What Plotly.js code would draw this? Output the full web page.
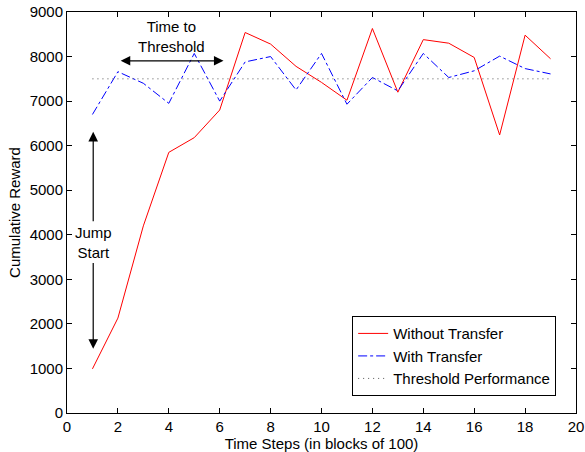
<!DOCTYPE html>
<html>
<head>
<meta charset="utf-8">
<script src="https://cdn.plot.ly/plotly-3.0.1.min.js"></script>
<style>html,body{margin:0;padding:0;background:#fff;}#chart{width:585px;height:452px;}</style>
</head>
<body>
<div id="chart"></div>
<script>
const steps = [1,2,3,4,5,6,7,8,9,10,11,12,13,14,15,16,17,18,19];
const withoutTransfer = [990,2130,4200,5850,6180,6800,8540,8280,7780,7420,7020,8630,7200,8380,8300,7980,6240,8480,7950];
const withTransfer = [6700,7660,7400,6950,8070,7000,7880,8000,7250,8070,6930,7530,7230,8070,7530,7680,8010,7730,7610];
const thresholdValue = 7500;
const thresholdLine = steps.map(() => thresholdValue);
const seriesNames = ["Without Transfer", "With Transfer", "Threshold Performance"];
const xTicks = [0,2,4,6,8,10,12,14,16,18,20];
const yTicks = [0,1000,2000,3000,4000,5000,6000,7000,8000,9000];

const FONT = "Liberation Sans, Arial, Helvetica, sans-serif";
const FS = 15;

const traces = [
  {x: steps, y: withoutTransfer, name: seriesNames[0], mode: "lines",
   line: {color: "#ff0000", width: 1}},
  {x: steps, y: withTransfer, name: seriesNames[1], mode: "lines",
   line: {color: "#0000ff", width: 1, dash: "dashdot"}},
  {x: steps, y: thresholdLine, name: seriesNames[2], mode: "lines",
   line: {color: "#555555", width: 1, dash: "1px,4px"}}
];

const arrowCommon = {xref: "x", yref: "y", axref: "x", ayref: "y", text: "",
  showarrow: true, arrowhead: 2, arrowsize: 1.6, arrowwidth: 1.2, arrowcolor: "#000"};

const layout = {
  width: 585, height: 452,
  margin: {l: 67, r: 9, t: 12, b: 39},
  paper_bgcolor: "#fff", plot_bgcolor: "#fff",
  font: {family: FONT, size: FS, color: "#000"},
  showlegend: true,
  legend: {x: 0.961, y: 0.042, xanchor: "right", yanchor: "bottom",
    bordercolor: "#000", borderwidth: 1, bgcolor: "#fff",
    font: {family: FONT, size: FS, color: "#000"}, tracegroupgap: 0},
  xaxis: {range: [0, 20], tickvals: xTicks, ticktext: xTicks.map(String),
    ticks: "inside", ticklen: 5, tickcolor: "#000", showline: true, linecolor: "#000",
    linewidth: 1, mirror: "ticks", showgrid: false, zeroline: false,
    tickfont: {family: FONT, size: FS, color: "#000"},
    title: {text: "Time Steps (in blocks of 100)", standoff: 1, font: {family: FONT, size: FS, color: "#000"}}},
  yaxis: {range: [0, 9000], tickvals: yTicks, ticktext: yTicks.map(String),
    ticks: "inside", ticklen: 5, tickcolor: "#000", showline: true, linecolor: "#000",
    linewidth: 1, mirror: "ticks", showgrid: false, zeroline: false,
    tickfont: {family: FONT, size: FS, color: "#000"},
    title: {text: "Cumulative Reward", standoff: 5, font: {family: FONT, size: FS, color: "#000"}}},
  annotations: [
    Object.assign({}, arrowCommon, {x: 6.15, y: 7905, ax: 2.05, ay: 7905, arrowside: "end+start"}),
    {xref: "x", yref: "y", x: 4.1, y: 8450, text: "Time to<br>Threshold", showarrow: false,
     font: {family: FONT, size: FS, color: "#000"}},
    Object.assign({}, arrowCommon, {x: 1.03, y: 6310, ax: 1.03, ay: 4270}),
    Object.assign({}, arrowCommon, {x: 1.03, y: 1440, ax: 1.03, ay: 3400}),
    {xref: "x", yref: "y", x: 1.03, y: 3830, text: "Jump<br>Start", showarrow: false,
     font: {family: FONT, size: FS, color: "#000"}}
  ]
};

Plotly.newPlot("chart", traces, layout, {displayModeBar: false, staticPlot: true});
</script>
</body>
</html>
